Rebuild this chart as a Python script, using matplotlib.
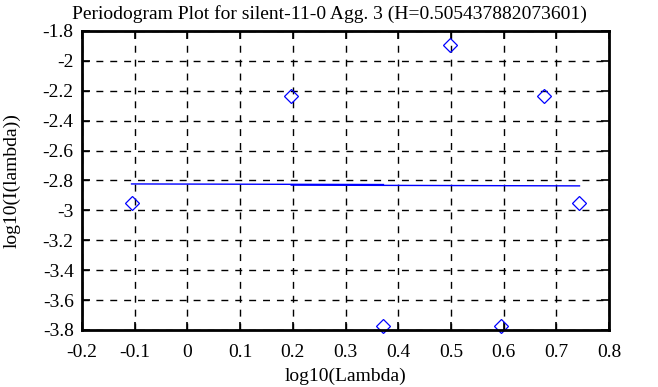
import matplotlib
matplotlib.use("Agg")
import matplotlib.pyplot as plt

log_lambda = [-0.106, 0.197, 0.372, 0.499, 0.595, 0.676, 0.744]
log_I = [-2.952, -2.237, -3.773, -1.896, -3.773, -2.237, -2.952]

fit1_x = [-0.106, 0.372]
fit1_y = [-2.823, -2.827]
fit2_x = [0.197, 0.744]
fit2_y = [-2.831, -2.836]

title = "Periodogram Plot for silent-11-0 Agg. 3 (H=0.505437882073601)"
xticks = [-0.2, -0.1, 0, 0.1, 0.2, 0.3, 0.4, 0.5, 0.6, 0.7, 0.8]
yticks = [-1.8, -2, -2.2, -2.4, -2.6, -2.8, -3, -3.2, -3.4, -3.6, -3.8]

plt.rcParams['font.family'] = ['Liberation Serif', 'DejaVu Serif']
fig = plt.figure(figsize=(6.58, 3.87), dpi=100)
ax = fig.add_axes([82/658, 1-330/387, (609-82)/658, (330-31)/387])

ax.plot(fit1_x, fit1_y, color='blue', lw=1.0)
ax.plot(fit2_x, fit2_y, color='blue', lw=1.0)
ax.plot(log_lambda, log_I, linestyle='none', marker='D', markersize=7.5,
        mfc='none', mec='blue', mew=0.9, clip_on=False)

ax.set_xlim(-0.2, 0.8)
ax.set_ylim(-3.8, -1.8)
ax.set_xticks(xticks)
ax.set_xticklabels([f"{t:g}" for t in xticks])
ax.set_yticks(yticks)
ax.set_yticklabels([f"{t:g}" for t in yticks])
ax.grid(True, color='black', linestyle=(0, (5, 5)), lw=1.0)
ax.tick_params(direction='in', length=6, width=1.2, labelsize=14, top=True, right=True,
               labeltop=False, labelright=False, pad=6)
ax.tick_params(axis='x', pad=10)
for s in ax.spines.values():
    s.set_linewidth(2)
fig.text(0.5, 1 - 14/387, title, fontsize=14, ha='center', va='center')
ax.set_xlabel("log10(Lambda)", fontsize=14, labelpad=5)
ax.set_ylabel("log10(I(lambda))", fontsize=14, labelpad=16)

fig.savefig("out.png", dpi=100)
